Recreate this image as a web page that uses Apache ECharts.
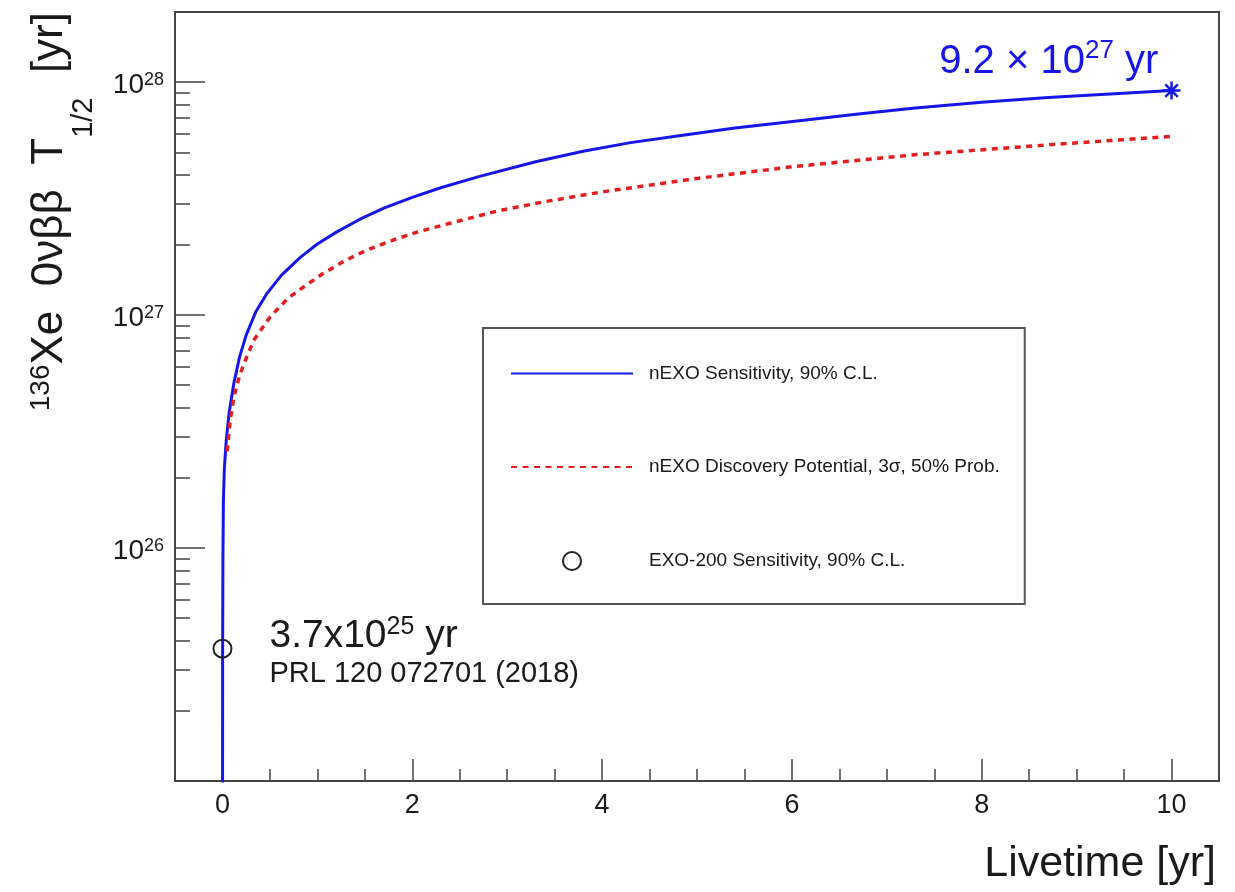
<!DOCTYPE html>
<html>
<head>
<meta charset="utf-8">
<script src="https://cdn.jsdelivr.net/npm/echarts@6/dist/echarts.min.js"></script>
<style>
  html, body { margin: 0; padding: 0; background: #ffffff; }
  #chart { width: 1235px; height: 892px; }
</style>
</head>
<body>
<div id="chart"></div>
<script>
// nEXO 90% C.L. sensitivity: livetime [yr] -> half-life [yr]
const sensLivetime = [0, 0.002, 0.005, 0.01, 0.02, 0.04, 0.07, 0.12, 0.18, 0.25, 0.35, 0.47, 0.62, 0.82, 1.0, 1.2, 1.45, 1.7, 2.0, 2.3, 2.7, 3.3, 3.8, 4.3, 4.85, 5.4, 6.1, 6.7, 7.3, 8.0, 8.7, 9.4, 10];
const sensHalfLife = [1e24, 3.5e25, 9e25, 1.6e26, 2.2e26, 2.9e26, 3.8e26, 5.1e26, 6.6e26, 8.2e26, 1.03e27, 1.24e27, 1.48e27, 1.77e27, 2.02e27, 2.27e27, 2.58e27, 2.88e27, 3.2e27, 3.52e27, 3.93e27, 4.55e27, 5.05e27, 5.5e27, 5.92e27, 6.35e27, 6.85e27, 7.3e27, 7.75e27, 8.2e27, 8.6e27, 8.92e27, 9.2e27];

// nEXO 3 sigma discovery potential (50% probability)
const discLivetime = [0.05, 0.08, 0.12, 0.17, 0.22, 0.33, 0.5, 0.7, 0.9, 1.05, 1.3, 1.52, 1.8, 2.05, 2.4, 2.9, 3.4, 4.0, 5.0, 6.0, 7.3, 8.7, 10];
const discHalfLife = [2.6e26, 3.5e26, 4.45e26, 5.3e26, 6.1e26, 7.8e26, 9.8e26, 1.19e27, 1.36e27, 1.5e27, 1.72e27, 1.9e27, 2.1e27, 2.27e27, 2.48e27, 2.8e27, 3.07e27, 3.38e27, 3.86e27, 4.33e27, 4.88e27, 5.38e27, 5.85e27];

// EXO-200 result and nEXO 10-year end point
const exo200Point = [0, 3.7e25];
const nexoEndPoint = [10, 9.2e27];

// Axis ticks
const xMajorTicks = [0, 2, 4, 6, 8, 10];
const yDecadeTicks = [1e26, 1e27, 1e28];

const xMinorTicks = [];
for (let k = 1; k < 20; k++) { const v = k * 0.5; if (v % 2 !== 0) xMinorTicks.push(v); }
const yMinorTicks = [];
for (let e = 25; e <= 27; e++) for (let m = 2; m <= 9; m++) yMinorTicks.push(m * Math.pow(10, e));

const FONT = 'Liberation Sans';
const BLUE = '#1616e8';
const RED = '#e41e1e';
const INK = '#1a1a1a';
const FRAME = '#444444';

const X_MIN = -0.5, X_MAX = 10.5, Y_MIN = 1e25, Y_MAX = 2e28;

function splitSci(v) {
  const exp = Math.floor(Math.log10(v) + 1e-9);
  const mant = v / Math.pow(10, exp);
  return { mant: mant.toFixed(1), exp: exp };
}

const zip = (xs, ys) => xs.map((x, i) => [x, ys[i]]);

const chart = echarts.init(document.getElementById('chart'), null, { renderer: 'canvas' });

const hiddenSymbol = { color: 'rgba(0,0,0,0)', borderWidth: 0, opacity: 0 };

const option = {
  backgroundColor: '#ffffff',
  animation: false,
  textStyle: { fontFamily: FONT },
  grid: {
    left: 175, right: 16, top: 12, bottom: 111,
    show: true, borderColor: FRAME, borderWidth: 2,
    containLabel: false, outerBoundsMode: 'none'
  },
  legend: {
    orient: 'vertical',
    left: 483, top: 328,
    padding: [36, 25, 33, 27],
    itemWidth: 122, itemHeight: 18, itemGap: 74.5,
    borderColor: '#555555', borderWidth: 2, backgroundColor: '#ffffff',
    textStyle: { fontFamily: FONT, fontSize: 19, color: INK, lineHeight: 18, padding: [0, 0, 0, 11] },
    data: [
      { name: 'nEXO Sensitivity, 90% C.L.', itemStyle: hiddenSymbol },
      { name: 'nEXO Discovery Potential, 3σ, 50% Prob.', itemStyle: hiddenSymbol },
      { name: 'EXO-200 Sensitivity, 90% C.L.' }
    ]
  },
  xAxis: [
    {
      type: 'value', min: X_MIN, max: X_MAX, position: 'bottom',
      name: 'Livetime [yr]', nameLocation: 'end', nameGap: -3, nameMoveOverlap: false,
      nameTextStyle: { fontFamily: FONT, fontSize: 43, color: INK, align: 'right', verticalAlign: 'top', lineHeight: 50, padding: [58, 0, 0, 0] },
      axisLine: { show: true, onZero: false, lineStyle: { color: FRAME, width: 2 } },
      axisTick: { show: true, inside: true, length: 22, customValues: xMajorTicks, lineStyle: { color: FRAME, width: 1.5 } },
      axisLabel: { show: true, customValues: xMajorTicks, margin: 11, fontFamily: FONT, fontSize: 27, color: INK },
      splitLine: { show: false }
    },
    {
      type: 'value', min: X_MIN, max: X_MAX, position: 'bottom',
      axisLine: { show: false, onZero: false },
      axisTick: { show: true, inside: true, length: 12, customValues: xMinorTicks, lineStyle: { color: FRAME, width: 1.5 } },
      axisLabel: { show: false },
      splitLine: { show: false }
    }
  ],
  yAxis: [
    {
      type: 'log', logBase: 10, min: Y_MIN, max: Y_MAX, position: 'left',
      name: '{p|136}{t|Xe  0νββ  T}{b|1/2}{t|  [yr]}',
      nameLocation: 'end', nameGap: 0, nameRotate: 90, nameMoveOverlap: false,
      nameTextStyle: {
        fontFamily: FONT, color: INK, align: 'right', verticalAlign: 'middle',
        padding: [0, 0, 246, 0],
        rich: {
          p: { fontFamily: FONT, fontSize: 28, color: INK, lineHeight: 20, verticalAlign: 'top' },
          t: { fontFamily: FONT, fontSize: 44, color: INK, lineHeight: 49, verticalAlign: 'top' },
          b: { fontFamily: FONT, fontSize: 29, color: INK, lineHeight: 28, padding: [42, 0, 0, 0], verticalAlign: 'top' }
        }
      },
      axisLine: { show: true, onZero: false, lineStyle: { color: FRAME, width: 2 } },
      axisTick: { show: true, inside: true, length: 30, customValues: yDecadeTicks, lineStyle: { color: FRAME, width: 1.5 } },
      axisLabel: {
        show: true, customValues: yDecadeTicks, margin: 11, padding: [10, 0, 0, 0],
        formatter: (v) => '{b|10}{s|' + Math.round(Math.log10(v)) + '}',
        rich: {
          b: { fontFamily: FONT, fontSize: 28, color: INK, lineHeight: 32, verticalAlign: 'top' },
          s: { fontFamily: FONT, fontSize: 18, color: INK, lineHeight: 18, verticalAlign: 'top' }
        }
      },
      splitLine: { show: false }
    },
    {
      type: 'log', logBase: 10, min: Y_MIN, max: Y_MAX, position: 'left',
      axisLine: { show: false, onZero: false },
      axisTick: { show: true, inside: true, length: 15, customValues: yMinorTicks, lineStyle: { color: FRAME, width: 1.5 } },
      axisLabel: { show: false },
      splitLine: { show: false }
    }
  ],
  series: [
    {
      name: 'nEXO Sensitivity, 90% C.L.',
      type: 'line', xAxisIndex: 0, yAxisIndex: 0,
      data: zip(sensLivetime, sensHalfLife),
      symbol: 'none', smooth: false, clip: true,
      lineStyle: { color: BLUE, width: 3 },
      itemStyle: { color: BLUE },
      z: 3
    },
    {
      name: 'nEXO Discovery Potential, 3σ, 50% Prob.',
      type: 'line', xAxisIndex: 0, yAxisIndex: 0,
      data: zip(discLivetime, discHalfLife),
      symbol: 'none', smooth: false, clip: true,
      lineStyle: { color: RED, width: 3.5, type: [6, 5.5] },
      itemStyle: { color: RED },
      z: 3
    },
    {
      name: 'EXO-200 Sensitivity, 90% C.L.',
      type: 'scatter', xAxisIndex: 0, yAxisIndex: 0,
      data: [exo200Point],
      symbol: 'circle', symbolSize: 18,
      itemStyle: { color: 'rgba(255,255,255,0)', borderColor: '#222222', borderWidth: 2, opacity: 1 },
      label: {
        show: true, position: 'right', distance: 37, offset: [0, 4.5], align: 'left',
        formatter: (p) => {
          const s = splitSci(p.value[1]);
          return '{m|' + s.mant + 'x10}{e|' + s.exp + '}{m| yr}\n{r|PRL 120 072701 (2018)}';
        },
        rich: {
          m: { fontFamily: FONT, fontSize: 39, color: INK, lineHeight: 42, verticalAlign: 'bottom' },
          e: { fontFamily: FONT, fontSize: 25, color: INK, lineHeight: 19, verticalAlign: 'top' },
          r: { fontFamily: FONT, fontSize: 29, color: INK, lineHeight: 36 }
        }
      },
      z: 5
    },
    {
      name: 'nEXO end point',
      type: 'scatter', xAxisIndex: 0, yAxisIndex: 0,
      data: [nexoEndPoint],
      symbol: 'path://M0,-10L0,10M-10,0L10,0M-7,-7L7,7M-7,7L7,-7',
      symbolSize: 18,
      itemStyle: { color: 'rgba(0,0,0,0)', borderColor: BLUE, borderWidth: 2.5, opacity: 1 },
      label: {
        show: true, position: 'left', distance: 3, offset: [0, -31], align: 'right',
        formatter: (p) => {
          const s = splitSci(p.value[1]);
          return '{m|' + s.mant + ' × 10}{e|' + s.exp + '}{m| yr}';
        },
        rich: {
          m: { fontFamily: FONT, fontSize: 40, color: BLUE, lineHeight: 44, verticalAlign: 'bottom' },
          e: { fontFamily: FONT, fontSize: 26, color: BLUE, lineHeight: 10, verticalAlign: 'top' }
        }
      },
      z: 5
    }
  ]
};

chart.setOption(option);
</script>
</body>
</html>
